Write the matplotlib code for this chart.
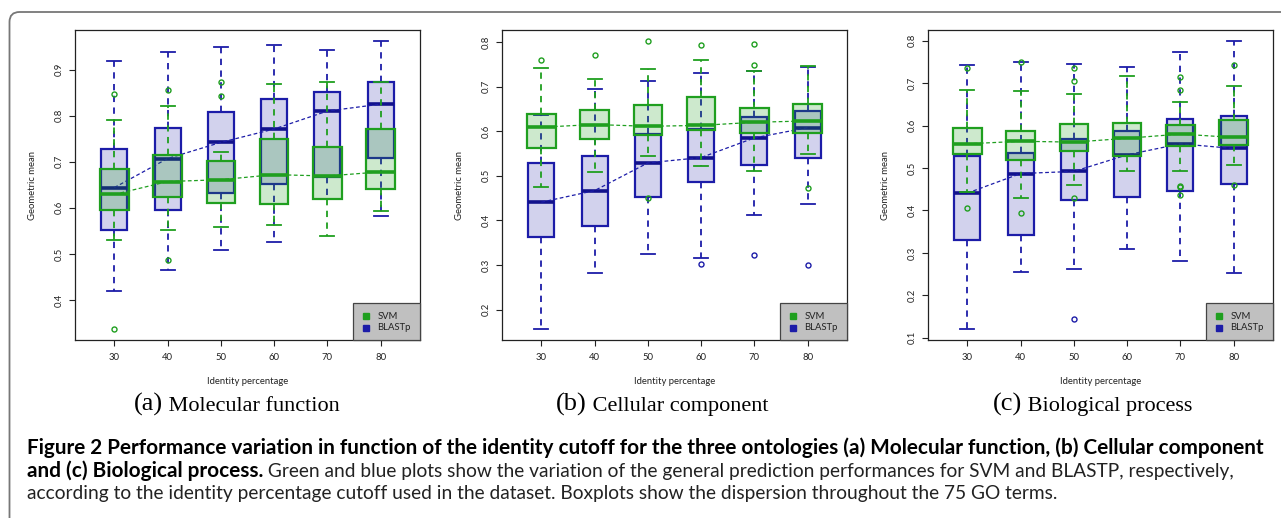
import matplotlib
matplotlib.use('Agg')
import matplotlib.pyplot as plt
from matplotlib.patches import FancyBboxPatch, Rectangle
from matplotlib.transforms import IdentityTransform
import numpy as np

# ---------------- data ----------------
identity = [30, 40, 50, 60, 70, 80]
methods = ['SVM', 'BLASTp']
panel_titles = [('(a)', 'Molecular function'), ('(b)', 'Cellular component'), ('(c)', 'Biological process')]
yticks_a = [0.4, 0.5, 0.6, 0.7, 0.8, 0.9]
yticks_b = [0.2, 0.3, 0.4, 0.5, 0.6, 0.7, 0.8]
yticks_c = [0.1, 0.2, 0.3, 0.4, 0.5, 0.6, 0.7, 0.8]

# (a) Molecular function
mf_svm_med = [0.629, 0.657, 0.661, 0.672, 0.669, 0.678]
mf_svm_q1 = [0.596, 0.623, 0.610, 0.609, 0.620, 0.641]
mf_svm_q3 = [0.685, 0.714, 0.701, 0.749, 0.733, 0.771]
mf_svm_lo = [0.530, 0.551, 0.559, 0.562, 0.538, 0.594]
mf_svm_hi = [0.791, 0.822, 0.722, 0.868, 0.872, 0.872]
mf_svm_out = [[0.846, 0.338], [0.855, 0.486], [0.872, 0.842], [], [], []]
mf_blast_med = [0.644, 0.707, 0.742, 0.771, 0.810, 0.825]
mf_blast_q1 = [0.551, 0.596, 0.633, 0.651, 0.667, 0.709]
mf_blast_q3 = [0.728, 0.774, 0.807, 0.837, 0.851, 0.872]
mf_blast_lo = [0.420, 0.465, 0.509, 0.525, 0.619, 0.583]
mf_blast_hi = [0.918, 0.938, 0.950, 0.953, 0.943, 0.961]
mf_blast_out = [[], [], [], [], [], []]

# (b) Cellular component
cc_svm_med = [0.609, 0.615, 0.611, 0.613, 0.620, 0.623]
cc_svm_q1 = [0.563, 0.582, 0.591, 0.602, 0.596, 0.596]
cc_svm_q3 = [0.638, 0.647, 0.659, 0.676, 0.653, 0.662]
cc_svm_lo = [0.475, 0.509, 0.545, 0.522, 0.510, 0.549]
cc_svm_hi = [0.742, 0.717, 0.739, 0.759, 0.734, 0.747]
cc_svm_out = [[0.760], [0.771], [0.801, 0.451], [0.792], [0.795, 0.748], [0.473]]
cc_blast_med = [0.441, 0.467, 0.529, 0.541, 0.585, 0.608]
cc_blast_q1 = [0.362, 0.387, 0.452, 0.487, 0.524, 0.540]
cc_blast_q3 = [0.528, 0.545, 0.593, 0.605, 0.631, 0.646]
cc_blast_lo = [0.158, 0.282, 0.325, 0.315, 0.412, 0.438]
cc_blast_hi = [0.637, 0.694, 0.713, 0.731, 0.734, 0.743]
cc_blast_out = [[], [], [], [0.302], [0.322], [0.300]]

# (c) Biological process
bp_svm_med = [0.557, 0.563, 0.561, 0.570, 0.580, 0.572]
bp_svm_q1 = [0.534, 0.520, 0.539, 0.529, 0.551, 0.554]
bp_svm_q3 = [0.595, 0.587, 0.603, 0.606, 0.602, 0.614]
bp_svm_lo = [0.444, 0.430, 0.460, 0.492, 0.493, 0.507]
bp_svm_hi = [0.683, 0.681, 0.675, 0.717, 0.655, 0.694]
bp_svm_out = [[0.735, 0.407], [0.750, 0.394], [0.735, 0.706, 0.429], [],
              [0.715, 0.683, 0.458, 0.456, 0.436], [0.743, 0.461]]
bp_blast_med = [0.441, 0.487, 0.492, 0.531, 0.557, 0.546]
bp_blast_q1 = [0.331, 0.342, 0.424, 0.431, 0.447, 0.463]
bp_blast_q3 = [0.528, 0.535, 0.569, 0.587, 0.616, 0.622]
bp_blast_lo = [0.122, 0.256, 0.261, 0.309, 0.282, 0.252]
bp_blast_hi = [0.743, 0.750, 0.744, 0.737, 0.773, 0.798]
bp_blast_out = [[], [], [0.144], [], [], []]

caption_bold_1 = ('Figure 2 Performance variation in function of the identity cutoff for the three '
                  'ontologies (a) Molecular function, (b) Cellular component')
caption_bold_2 = 'and (c) Biological process.'
caption_reg_2 = (' Green and blue plots show the variation of the general prediction performances '
                 'for SVM and BLASTP, respectively,')
caption_reg_3 = ('according to the identity percentage cutoff used in the dataset. Boxplots show the '
                 'dispersion throughout the 75 GO terms.')

# ---------------- style ----------------
W, H = 1281, 518
plt.rcParams['font.family'] = ['Lato', 'DejaVu Sans']
GREEN = '#1f9f1f'
GREEN_FILL = (0.12, 0.62, 0.12, 0.22)
BLUE = '#1c1ca8'
BLUE_MED = '#12128c'
BLUE_FILL = (0.12, 0.12, 0.66, 0.20)
AXC = '#222222'

fig = plt.figure(figsize=(W / 100, H / 100), dpi=100)
renderer = fig.canvas.get_renderer()


def stats(med, q1, q3, lo, hi, out):
    return [dict(med=m, q1=a, q3=b, whislo=l, whishi=h, fliers=o)
            for m, a, b, l, h, o in zip(med, q1, q3, lo, hi, out)]


def draw(ax, st, color, fill, medc, width, capw, z):
    ax.bxp(st, positions=identity, widths=width, capwidths=capw, patch_artist=True,
           manage_ticks=False, zorder=z,
           boxprops=dict(facecolor=fill, edgecolor=color, linewidth=1.6),
           medianprops=dict(color=medc, linewidth=2.6, solid_capstyle='butt'),
           whiskerprops=dict(color=color, linewidth=1.3, linestyle=(0, (3.5, 3))),
           capprops=dict(color=color, linewidth=1.3),
           flierprops=dict(marker='o', markerfacecolor='none', markeredgecolor=color,
                           markersize=3.6, markeredgewidth=1.0))
    ax.plot(identity, [s['med'] for s in st], color=color, lw=0.9,
            ls=(0, (3, 2)), zorder=z + 0.5)


panels = [
    (stats(mf_svm_med, mf_svm_q1, mf_svm_q3, mf_svm_lo, mf_svm_hi, mf_svm_out),
     stats(mf_blast_med, mf_blast_q1, mf_blast_q3, mf_blast_lo, mf_blast_hi, mf_blast_out), yticks_a),
    (stats(cc_svm_med, cc_svm_q1, cc_svm_q3, cc_svm_lo, cc_svm_hi, cc_svm_out),
     stats(cc_blast_med, cc_blast_q1, cc_blast_q3, cc_blast_lo, cc_blast_hi, cc_blast_out), yticks_b),
    (stats(bp_svm_med, bp_svm_q1, bp_svm_q3, bp_svm_lo, bp_svm_hi, bp_svm_out),
     stats(bp_blast_med, bp_blast_q1, bp_blast_q3, bp_blast_lo, bp_blast_hi, bp_blast_out), yticks_c),
]

lefts = [75, 502, 928]
ax_w, ax_top, ax_bot = 345, 30, 340
title_centers = [237, 662, 1093]
title_base = 411

for (svm, blast, yt), left, tc, (tlab, tname) in zip(panels, lefts, title_centers, panel_titles):
    ax = fig.add_axes([left / W, (H - ax_bot) / H, ax_w / W, (ax_bot - ax_top) / H])
    draw(ax, blast, BLUE, BLUE_FILL, BLUE_MED, 4.9, 2.6, 2)
    draw(ax, svm, GREEN, GREEN_FILL, GREEN, 5.4, 2.6, 3)
    vals = []
    for s in svm + blast:
        vals += [s['whislo'], s['whishi']] + list(s['fliers'])
    lo, hi = min(vals), max(vals)
    pad = 0.04 * (hi - lo)
    ax.set_ylim(lo - pad, hi + pad)
    ax.set_xlim(25 - 0.04 * 60, 85 + 0.04 * 60)
    ax.set_xticks(identity)
    ax.set_xticklabels([str(v) for v in identity])
    ax.set_yticks(yt)
    ax.set_yticklabels(['%.1f' % v for v in yt])
    ax.tick_params(axis='both', length=4, width=0.8, labelsize=6.8, colors=AXC)
    ax.tick_params(axis='x', pad=5)
    ax.tick_params(axis='y', pad=4, labelrotation=90)
    for lab in ax.get_yticklabels():
        lab.set_va('center')
    for sp in ax.spines.values():
        sp.set_color(AXC)
        sp.set_linewidth(0.9)
    ax.set_xlabel('Identity percentage', fontsize=6.8, color=AXC)
    ax.set_ylabel('Geometric mean', fontsize=6.8, color=AXC)
    ax.xaxis.set_label_coords(0.5, -42 / 310)
    ax.xaxis.label.set_va('center')
    ax.yaxis.set_label_coords(-42 / 345, 0.5)
    ax.yaxis.label.set_va('center')
    # legend
    ax.add_patch(Rectangle((0.805, 0.0), 0.195, 0.118, transform=ax.transAxes,
                           facecolor='#c0c0c0', edgecolor='#444444', lw=0.9,
                           zorder=10, clip_on=False))
    for yy, c, name in [(0.077, GREEN, methods[0]), (0.039, BLUE, methods[1])]:
        ax.plot([0.843], [yy], marker='s', ms=4.2, color=c, mec=c,
                transform=ax.transAxes, zorder=11, clip_on=False)
        ax.text(0.877, yy, name, transform=ax.transAxes, fontsize=6.8, color=AXC,
                va='center', ha='left', zorder=11)
    # sub-caption
    t1 = fig.text(0, 0, tlab, fontsize=19, family=['Liberation Serif'], va='baseline')
    t2 = fig.text(0, 0, ' ' + tname, fontsize=16, family=['Liberation Serif'], va='baseline')
    w1 = t1.get_window_extent(renderer).width
    w2 = t2.get_window_extent(renderer).width
    x0 = tc - (w1 + w2) / 2
    t1.set_position((x0 / W, (H - title_base) / H))
    t2.set_position(((x0 + w1) / W, (H - title_base) / H))

# ---------------- frame ----------------
frame = FancyBboxPatch((9.5, -40), 1400, (H - 12) + 40, boxstyle='round,pad=0,rounding_size=10',
                       transform=IdentityTransform(), fill=False, edgecolor='#777777', lw=1.3)
fig.add_artist(frame)

# ---------------- caption ----------------
x_start, x_end1, x_end2 = 27, 1262, 1235


def width_of(s, size, **kw):
    t = fig.text(0, 0, s, fontsize=size, **kw)
    w = t.get_window_extent(renderer).width
    t.remove()
    return w


fs_b = 12 * (x_end1 - x_start) / width_of(caption_bold_1, 12, fontweight='bold')
wb2 = width_of(caption_bold_2, fs_b, fontweight='bold')
fs_r = 12 * (x_end2 - x_start - wb2) / width_of(caption_reg_2, 12)


def runs(x, y, parts):
    cur = x
    for s, kw in parts:
        t = fig.text(cur / W, (H - y) / H, s, va='baseline', ha='left', **kw)
        cur = t.get_window_extent(renderer).x1
    return cur


runs(x_start, 454, [(caption_bold_1, dict(fontweight='bold', color='black', fontsize=fs_b))])
runs(x_start, 477, [(caption_bold_2, dict(fontweight='bold', color='black', fontsize=fs_b)),
                    (caption_reg_2, dict(color='#222222', fontsize=fs_r))])
runs(x_start, 499, [(caption_reg_3, dict(color='#222222', fontsize=fs_r))])

fig.savefig('out.png', dpi=100)
